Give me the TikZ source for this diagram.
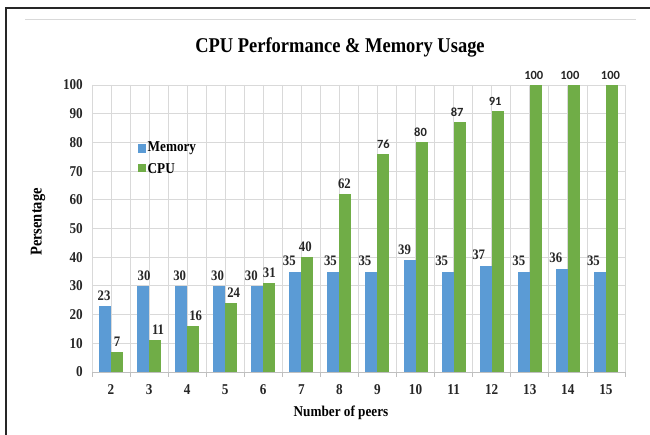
\documentclass[tikz,border=0pt]{standalone}
\usepackage{fontspec}
\setmainfont{Liberation Serif}[FakeStretch=0.88]
\newfontfamily\labelsans{Carlito}
\usetikzlibrary{positioning}
\definecolor{memblue}{HTML}{5B9BD5}
\definecolor{cpugreen}{HTML}{70AD47}
\definecolor{gridgray}{HTML}{D9D9D9}
\definecolor{axisgray}{HTML}{BFBFBF}
\tikzset{
    membar/.style={fill=memblue}, % memory bars
    cpubar/.style={fill=cpugreen}, % cpu bars
    gridline/.style={draw=gridgray, line width=0.8pt}, % light grid
    vallabel/.style={font=\bfseries\fontsize{14.5}{14.5}\selectfont, inner sep=0pt, anchor=south, text=black!85}, % numbers over the bars
    sanslabel/.style={font=\labelsans\bfseries\fontsize{12.5}{12.5}\selectfont}, % some labels are in the sans font
    seriflabel/.style={}, % keep the serif font
    ticklabel/.style={font=\bfseries\fontsize{15}{15}\selectfont, inner sep=0pt, text=black!85}, % axis numbers
    axistitle/.style={font=\bfseries\fontsize{15}{15}\selectfont, inner sep=0pt}, % axis names
    }

\begin{document}
\begin{tikzpicture}[x=1pt, y=-1pt]
\useasboundingbox (0,0) rectangle (650,435);

% frame
\draw[line width=1.6pt, black!85] (6,435) -- (6,8) -- (650,8);
\draw[gridline] (25,19) -- (636,19);

\node[font=\bfseries\fontsize{21}{21}\selectfont, inner sep=0pt] (title) at (340,47) {CPU Performance \& Memory Usage};

% grid
\foreach \j in {0,...,28}
    \draw[gridline] ({92+19.035*\j},85) -- ({92+19.035*\j},372);
\foreach \k in {1,...,10}
    \draw[gridline] (92,{372-28.7*\k}) -- (625,{372-28.7*\k});
\draw[axisgray, line width=0.8pt] (92,372) -- (625,372);
\foreach \j in {0,...,14}
    \draw[axisgray, line width=0.8pt] ({92+38.07*\j},372) -- ({92+38.07*\j},377);

% y axis numbers
\foreach \k in {0,...,10}{
    \pgfmathtruncatemacro\lab{\k*10}
    \node[ticklabel, anchor=east] (ytick\k) at (83,{372-28.7*\k}) {\lab};
}

% bars and labels
\foreach \n/\m/\c/\mx/\cx/\f in {2/23/7/-1/0/seriflabel, 3/30/11/1/3/seriflabel, 4/30/16/-1.5/2.5/seriflabel,
        5/30/24/-1.7/2.5/seriflabel, 6/30/31/-6/0/seriflabel, 7/35/40/-6/-2/seriflabel, 8/35/62/-3/-1/seriflabel,
        9/35/76/-6.5/0/sanslabel, 10/39/80/-5/-1/sanslabel, 11/35/87/-6/-2.5/sanslabel, 12/37/91/-7/-2.5/sanslabel,
        13/35/100/-5/-2/sanslabel, 14/36/100/-6/-4/sanslabel, 15/35/100/-6.5/-1.5/sanslabel}{
    \pgfmathsetmacro\xc{111+38.07*(\n-2)}
    \pgfmathsetmacro\ym{372-2.87*\m}
    \pgfmathsetmacro\yc{372-2.87*\c}
    \fill[membar] (\xc-12,372) rectangle (\xc,\ym);
    \fill[cpubar] (\xc,372) rectangle (\xc+12,\yc);
    \node[vallabel] (mem\n) at (\xc-6+\mx,\ym-5.5) {\m};
    \node[vallabel, \f] (cpu\n) at (\xc+6+\cx,\yc-5.5) {\c};
    \node[ticklabel] (cat\n) at (\xc,390) {\n};
}

% legend
\fill[membar] (137.7,144.3) rectangle (145.7,152.7);
\node[axistitle, anchor=west] (legmem) at (147.5,148.5) {Memory};
\fill[cpubar] (137.7,164.3) rectangle (145.7,172.5);
\node[axistitle, anchor=west] (legcpu) at (147.5,168.3) {CPU};

% axis names
\node[axistitle, font=\bfseries\fontsize{16.5}{16.5}\selectfont, rotate=90] (ytitle) at (38,222) {Persentage};
\node[axistitle] (xtitle) at (341,413) {Number of peers};

\end{tikzpicture}
\end{document}
